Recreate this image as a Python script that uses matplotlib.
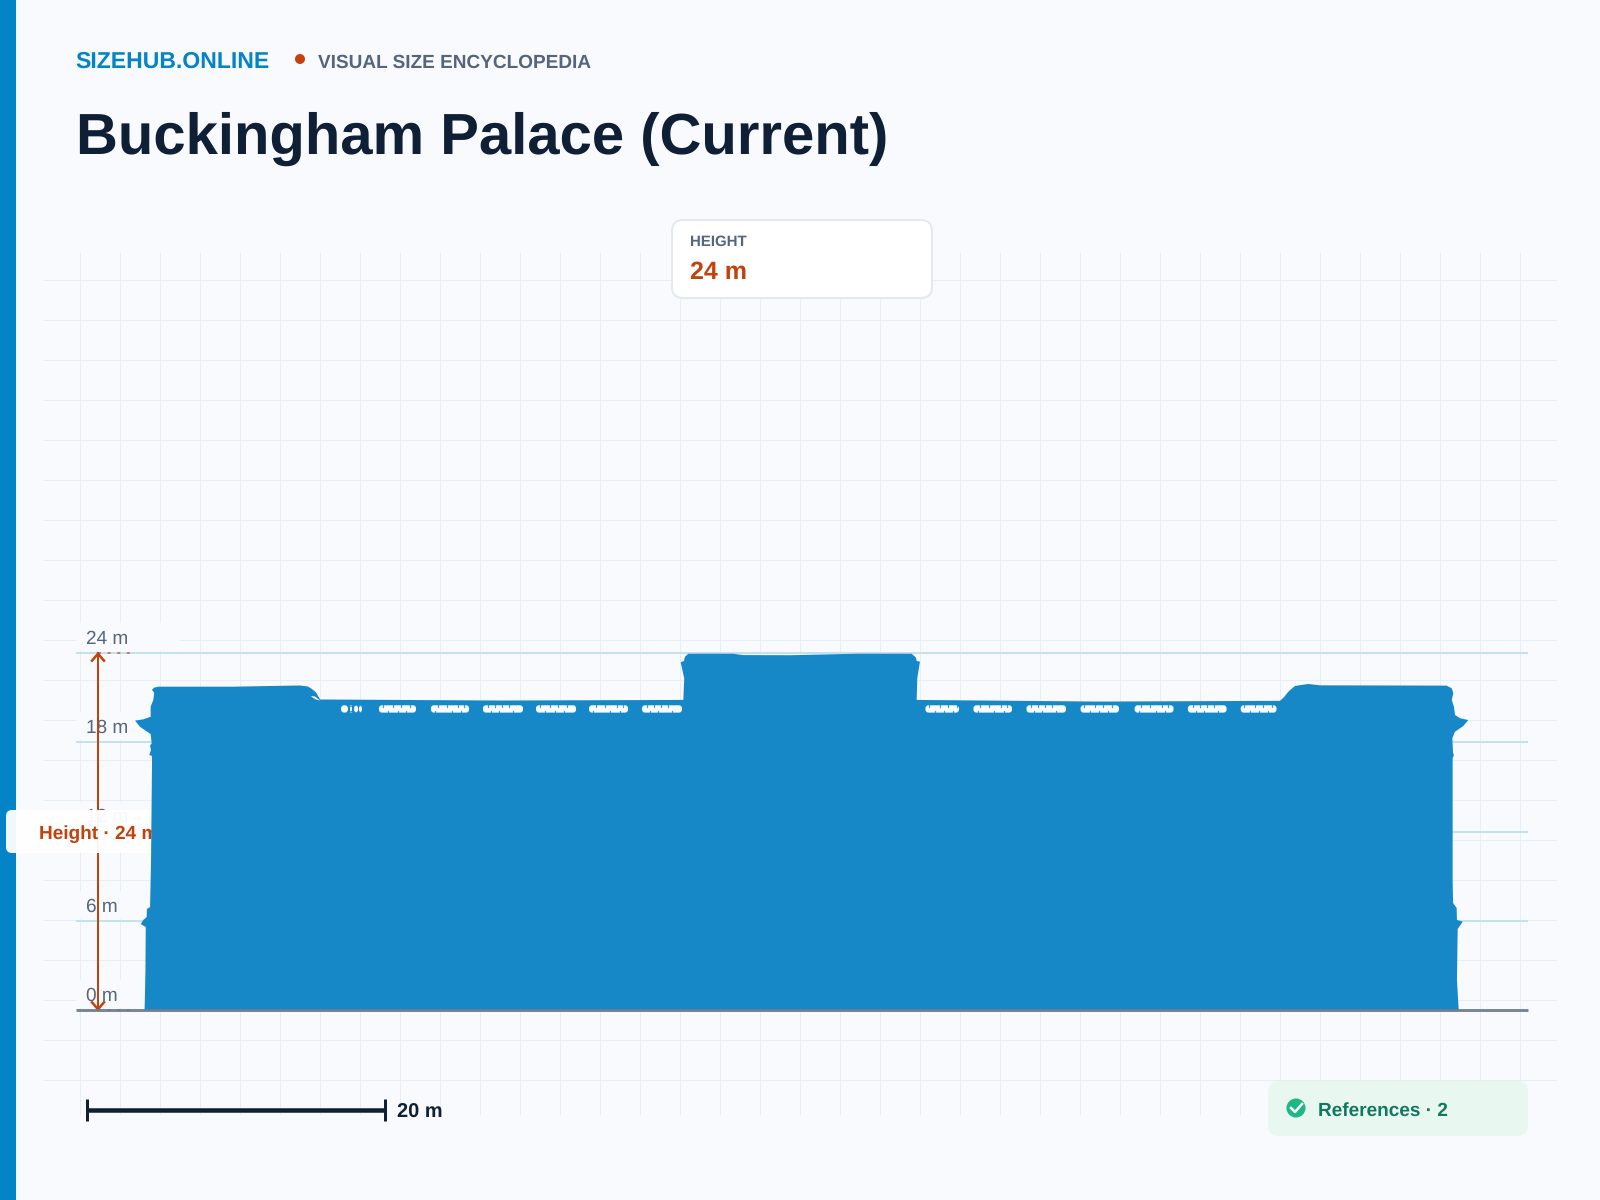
import matplotlib
matplotlib.use("Agg")
import matplotlib.pyplot as plt
from matplotlib.patches import FancyBboxPatch, Polygon, Circle, Rectangle
from matplotlib.transforms import Affine2D

plt.rcParams['font.family'] = ['Liberation Sans', 'DejaVu Sans']
plt.rcParams['text.hinting'] = 'no_hinting'

# ---- data (metres) ----
title = "Buckingham Palace (Current)"
brand = "SIZEHUB.ONLINE"
tagline = "VISUAL SIZE ENCYCLOPEDIA"
height_m = 24
scale_m = 20
references = 2
tick_values = [0, 6, 12, 18, 24]

outline_x = [-43.99, -43.97, -43.93, -43.91, -44.25, -44.07, -43.85, -43.83, -43.62, -43.60, -43.56,
             -43.49, -43.49, -43.67, -43.56, -43.62, -43.51, -43.58, -44.30, -44.63, -44.07,
             -43.58, -43.58, -43.40, -43.34, -43.49, -43.36, -43.07, -38.05, -33.56, -33.02,
             -32.75, -32.48, -32.21, -20.13, -7.83, -7.77, -8.01, -7.79, -7.72, -7.50,
             -4.48, -3.83, -0.67, 0.20, 3.81, 7.50, 7.79, 7.83, 8.05, 7.87, 7.83,
             20.13, 32.21, 32.48, 32.77, 33.22, 34.11, 34.90, 43.40, 43.74, 43.85, 43.74,
             43.89, 43.96, 44.30, 44.85, 44.52, 43.96, 43.78, 43.83, 43.89, 43.80, 43.80,
             43.83, 44.07, 44.09, 44.48, 44.14, 44.09, 44.21]
outline_y = [0.00, 0.69, 2.70, 5.59, 5.79, 6.06, 6.26, 6.80, 6.93, 7.89, 9.68,
             16.46, 17.07, 17.13, 17.47, 17.76, 17.92, 18.54, 19.03, 19.44, 19.53,
             19.70, 20.38, 20.83, 21.30, 21.50, 21.65, 21.72, 21.72, 21.80, 21.73,
             21.56, 21.33, 20.86, 20.79, 20.83, 22.28, 23.36, 23.44, 23.73, 23.93,
             23.93, 23.84, 23.83, 23.85, 23.93, 23.93, 23.66, 23.44, 23.40, 22.28, 20.83,
             20.72, 20.77, 21.01, 21.38, 21.77, 21.90, 21.81, 21.79, 21.61, 21.28, 20.83,
             20.38, 19.82, 19.60, 19.48, 19.08, 18.70, 18.26, 17.26, 17.13, 16.92, 8.74,
             7.20, 6.87, 6.06, 5.95, 5.46, 2.03, 0.00]

wing_mark_x = [-32.82, -32.55, -32.21, -32.48, -32.68]
wing_mark_y = [21.09, 21.06, 20.79, 20.86, 20.96]

window_start = [-30.80, -30.20, -29.93, -29.60, -28.26, -24.77, -21.28, -17.72, -14.16, -10.60,
                8.42, 11.64, 15.20, 18.83, 22.46, 26.03, 29.58]
window_end = [-30.34, -30.07, -29.66, -29.40, -25.77, -22.21, -18.59, -15.03, -11.54, -7.92,
              10.67, 14.23, 17.85, 21.41, 25.07, 28.63, 31.98]
window_bottom = 19.98
window_top = 20.47
# small bites in the window strips, metres from each strip's left end
notch_top = [[0.33, 0.80, 1.27, 1.74], [0.25, 0.95, 1.50, 2.10], [0.45, 1.05, 1.85, 2.25]]
notch_bottom = [[0.53, 1.07, 2.01], [0.62, 1.25, 1.85], [0.30, 1.40, 2.05]]

# ---- figure ----
BG = '#f8fafd'; BLUE = '#0284c7'; FILL = '#1688c8'; ORANGE = '#c2410c'
NAVY = '#0f1f36'; SLATE = '#55657f'; GRID = '#e6eff6'; TICK = '#c5e1ef'

W, H = 1600, 1200
PXM = 14.9
X0, Y0 = 800, 1010.3

fig = plt.figure(figsize=(W / 100, H / 100), dpi=100, facecolor=BG)
ax = fig.add_axes([0, 0, 1, 1])
ax.set_xlim(-X0 / PXM, (W - X0) / PXM)
ax.set_ylim(-(H - Y0) / PXM, Y0 / PXM)
ax.axis('off')
ax.set_facecolor(BG)

PX = Affine2D().scale(1, -1).translate(0, H)   # layout space: pixels from top-left


def lw(px):
    return px * 0.72


def text(x, y, s, px, color, weight='normal', z=5, **kw):
    return ax.text(x, y, s, fontsize=px * 0.72, color=color, fontweight=weight, transform=PX,
                   va='baseline', ha='left', zorder=z, **kw)


def box(x0, y0, x1, y1, r, fc, ec='none', elw=0, z=2, alpha=None):
    p = FancyBboxPatch((x0 + r, y0 + r), x1 - x0 - 2 * r, y1 - y0 - 2 * r,
                       boxstyle=f"round,pad={r},rounding_size={r}", fc=fc, ec=ec, lw=lw(elw),
                       transform=PX, zorder=z, alpha=alpha)
    ax.add_patch(p)
    return p


# accent bar
ax.add_patch(Rectangle((0, 0), 16, H, fc=BLUE, ec='none', transform=PX, zorder=1))

# paper grid
for gx in range(80, 1521, 40):
    ax.plot([gx, gx], [253, 1114], color=GRID, lw=lw(1), transform=PX, zorder=1)
for gy in range(280, 1081, 40):
    ax.plot([44, 1556], [gy, gy], color=GRID, lw=lw(1), transform=PX, zorder=1)

# tick lines
for v in tick_values[1:]:
    ax.plot([(76 - X0) / PXM, (1528 - X0) / PXM], [v, v], color=TICK, lw=lw(2), zorder=2,
            solid_capstyle='butt')

# tick labels with their masks
for v in tick_values:
    py = Y0 - v * PXM
    ax.add_patch(Rectangle((76, py - 30), 104, 28, fc=BG, ec='none', transform=PX, zorder=2.5))
    text(86, py - 9, f"{v} m", 19, SLATE, z=3)

# height arrow
ax.plot([(98 - X0) / PXM] * 2, [0, height_m], color=ORANGE, lw=lw(2), zorder=3.2)
for v, d in ((height_m, 1), (0, -1)):
    py = Y0 - v * PXM
    ax.plot([92, 98, 104], [py + d * 8, py + d * 1, py + d * 8], color=ORANGE, lw=lw(2.5),
            transform=PX, zorder=3.3)
    ax.plot([98, 131], [py, py], color=ORANGE, lw=lw(2), alpha=.6, transform=PX, zorder=3.1,
            dashes=(1.5, 3.3))

# height pill sits under the silhouette
box(6, 810, 175, 853, 6, '#ffffff', z=3.5, alpha=.95)
text(39, 838.5, f"Height · {height_m} m", 19, ORANGE, 'bold', z=3.6)

# silhouette
ax.add_patch(Polygon(list(zip(outline_x, outline_y)), closed=True, fc=FILL, ec='none', zorder=4))
ax.add_patch(Polygon(list(zip(wing_mark_x, wing_mark_y)), closed=True, fc='#fbfdfe', ec='none', zorder=4.1))
for i, (a, b) in enumerate(zip(window_start, window_end)):
    ax.add_patch(FancyBboxPatch((a + .1, window_bottom + .1), b - a - .2, window_top - window_bottom - .2,
                                boxstyle="round,pad=0.1,rounding_size=0.2", fc='#fbfdfe', ec='none', zorder=4.1))
    if b - a > 1:
        for off in notch_top[i % 3]:
            ax.plot([a + off, a + off], [window_top - .09, window_top + .02], color=FILL, lw=lw(1.2),
                    alpha=.8, zorder=4.2)
        for off in notch_bottom[i % 3]:
            ax.plot([a + off, a + off], [window_bottom - .02, window_bottom + .08], color=FILL, lw=lw(1.2),
                    alpha=.8, zorder=4.2)

# ground
ax.plot([(76 - X0) / PXM, (1528 - X0) / PXM], [0, 0], color='#6b7a90', lw=lw(3), zorder=4.5, alpha=.9,
        solid_capstyle='butt')

# header
text(75.5, 68, brand, 23, BLUE, 'bold')
ax.add_patch(Circle((300, 59), 5, fc=ORANGE, ec='none', transform=PX, zorder=5))
text(318, 68, tagline, 19, SLATE, 'bold')
text(76, 154, title, 58, NAVY, 'bold')

# height card
box(672, 220, 932, 298, 11, '#ffffff', '#e2e9f1', 2, z=6)
text(690, 246, "HEIGHT", 15, SLATE, 'bold', z=7)
text(690, 279, f"{height_m} m", 25, ORANGE, 'bold', z=7)

# scale bar
sx0 = (87 - X0) / PXM
sy = -(1110 - Y0) / PXM
ax.plot([sx0, sx0 + scale_m], [sy, sy], color=NAVY, lw=lw(4.5), zorder=5, solid_capstyle='butt')
for sx in (sx0, sx0 + scale_m):
    ax.plot([sx, sx], [sy - 11 / PXM, sy + 11 / PXM], color=NAVY, lw=lw(3), zorder=5, solid_capstyle='butt')
text(397, 1118, f"{scale_m} m", 20, NAVY, 'bold')

# references badge
box(1268, 1081, 1528, 1136, 11, '#e9f7f1', z=6)
ax.add_patch(Circle((1296, 1108), 9.5, fc='#1db885', ec='none', transform=PX, zorder=7))
ax.plot([1291, 1295, 1302], [1108, 1112, 1104], color='white', lw=lw(2.5), transform=PX, zorder=8)
text(1318, 1116, f"References · {references}", 19, '#0f7a5f', 'bold', z=7)

fig.savefig('out.png', dpi=100, facecolor=BG)
